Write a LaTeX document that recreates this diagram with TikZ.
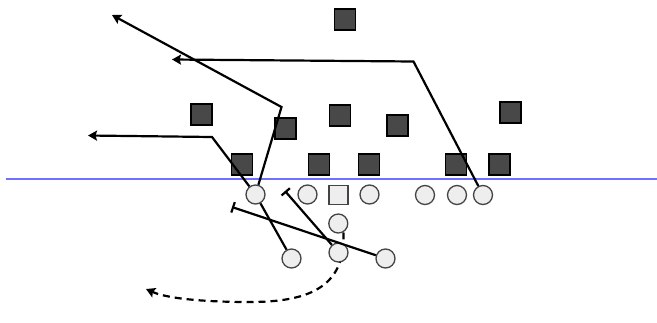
\documentclass[tikz,border=0pt]{standalone}
\usetikzlibrary{arrows.meta,backgrounds}
\definecolor{losblue}{RGB}{112,112,255}
\definecolor{dgray}{RGB}{72,72,72}
\definecolor{lgray}{RGB}{238,238,238}
\definecolor{rim}{RGB}{68,68,68}
\tikzset{
  dman/.style={rectangle,draw=black,fill=dgray,line width=1.4bp,minimum size=21bp,inner sep=0pt},
  oman/.style={circle,draw=rim,fill=lgray,line width=1.3bp,minimum size=19bp,inner sep=0pt},
  cman/.style={oman,rectangle},
  route/.style={line width=2.2bp,-{Stealth[length=9bp,width=10bp,inset=1.5bp]}},
  block/.style={line width=2.2bp,-{Bar[width=11bp,line width=2.2bp]}},
}
\begin{document}
\begin{tikzpicture}[x=1bp,y=-1bp]
    \useasboundingbox (0,0) rectangle (657,322);
    % line of scrimmage
    \draw[losblue,line width=2.5bp] (6,179) -- (657,179);
    % defense
    \foreach \p [count=\i] in {(345,19.5),(201.5,114.5),(340,115.5),(397.5,125.5),(285.5,128.5),
        (510.5,112.5),(242,164.5),(319,164.5),(369,164.5),(456,164.5),(499.5,164.5)}
        {\node[dman] (d\i) at \p {};
        }
    % offense
    \node[oman] (lt) at (255.5,194.5) {};
    \node[oman] (lg) at (307.5,194.5) {};
    \node[cman] (c)  at (338.5,195) {};
    \node[oman] (rg) at (369.5,194.5) {};
    \node[oman] (rt) at (425,195) {};
    \node[oman] (te) at (457,195) {};
    \node[oman] (wr) at (483,195) {};
    \node[oman] (qb) at (338.3,223.5) {};
    \node[oman] (hb) at (291.5,258.5) {};
    \node[oman] (fb) at (338.5,252.5) {};
    \node[oman] (wb) at (385.5,258.5) {};
    % route points
    \coordinate (p1) at (281.5,107);
    \coordinate (e1) at (112,15);
    \coordinate (p2) at (212,137);
    \coordinate (e2) at (88,135.5);
    \coordinate (p3) at (413.5,61.5);
    \coordinate (e3) at (172,59.5);
    \coordinate (b1) at (232,207);
    \coordinate (b2) at (285,191);
    \coordinate (q1) at (250,302);
    \coordinate (e4) at (146,289);
    \draw[route] (lt) -- (p1) -- (e1);
    \draw[route] (lt) -- (p2) -- (e2);
    \draw[route] (wr) -- (p3) -- (e3);
    \draw[line width=2.2bp] (hb) -- (lt);
    \draw[block] (wb) -- (b1);
    \draw[block] (fb) -- (b2);
    \begin{scope}[on background layer]
        \draw[route,dash pattern=on 7bp off 5bp] (qb.-60) .. controls (346,285) and (312,302) .. (q1)
            .. controls (200,302) and (166,298) .. (e4);
    \end{scope}
\end{tikzpicture}
\end{document}
